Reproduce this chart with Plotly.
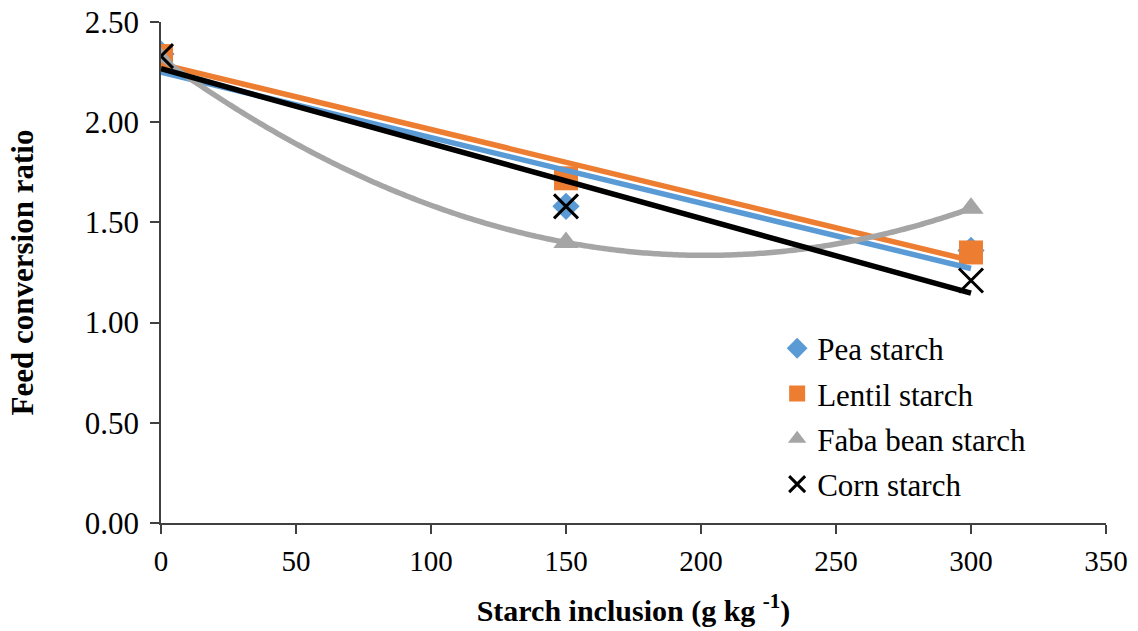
import numpy as np
import plotly.graph_objects as go

# Data
inclusion = [0, 150, 300]
pea = [2.34, 1.58, 1.36]
lentil = [2.33, 1.72, 1.35]
faba = [2.32, 1.40, 1.57]
corn = [2.33, 1.58, 1.21]
series_names = ["Pea starch", "Lentil starch", "Faba bean starch", "Corn starch"]
y_ticks = [0, 0.5, 1.0, 1.5, 2.0, 2.5]
x_ticks = [0, 50, 100, 150, 200, 250, 300, 350]

BLUE = "#5B9BD5"
ORANGE = "#ED7D31"
GRAY = "#A5A5A5"
BLACK = "#000000"
FONT = "Liberation Serif, Tinos, Times New Roman, Times, DejaVu Serif, serif"

fig = go.Figure()

# markers (pea, lentil, faba)
fig.add_trace(go.Scatter(x=inclusion, y=pea, mode="markers", name=series_names[0],
                         legendgroup="a",
                         marker=dict(symbol="diamond", size=21, color=BLUE)))
fig.add_trace(go.Scatter(x=inclusion, y=lentil, mode="markers", name=series_names[1],
                         legendgroup="b",
                         marker=dict(symbol="square", size=24, color=ORANGE)))
fig.add_trace(go.Scatter(x=inclusion, y=faba, mode="markers", name=series_names[2],
                         legendgroup="c",
                         marker=dict(symbol="triangle-up", size=22, color=GRAY)))

# trend lines
xs = np.linspace(0, 300, 301)
def lin(vals):
    c = np.polyfit(inclusion, vals, 1)
    return np.polyval(c, xs)
def quad(vals):
    c = np.polyfit(inclusion, vals, 2)
    return np.polyval(c, xs)

LW = 5.5
fig.add_trace(go.Scatter(x=xs, y=lin(pea), mode="lines", showlegend=False, legendgroup="a",
                         line=dict(color=BLUE, width=LW), hoverinfo="skip"))
fig.add_trace(go.Scatter(x=xs, y=lin(lentil), mode="lines", showlegend=False, legendgroup="b",
                         line=dict(color=ORANGE, width=LW), hoverinfo="skip"))
fig.add_trace(go.Scatter(x=xs, y=quad(faba), mode="lines", showlegend=False, legendgroup="c",
                         line=dict(color=GRAY, width=LW, simplify=False), hoverinfo="skip"))
fig.add_trace(go.Scatter(x=xs, y=lin(corn), mode="lines", showlegend=False, legendgroup="d",
                         line=dict(color=BLACK, width=LW), hoverinfo="skip"))

# corn markers on top
fig.add_trace(go.Scatter(x=inclusion, y=corn, mode="markers", name=series_names[3],
                         legendgroup="d",
                         marker=dict(symbol="x-thin", size=24, color=BLACK,
                                     line=dict(color=BLACK, width=3))))

fig.update_layout(
    width=1138, height=631,
    margin=dict(l=161, r=32, t=22, b=108),
    plot_bgcolor="white", paper_bgcolor="white",
    font=dict(family=FONT, size=30, color="black"),
    legend=dict(x=0.652, y=0.402, xanchor="left", yanchor="top",
                font=dict(family=FONT, size=31, color="black"),
                bgcolor="rgba(0,0,0,0)", traceorder="grouped", tracegroupgap=2),
    xaxis=dict(range=[0, 350], tickvals=x_ticks, showgrid=False, zeroline=False,
               showline=True, linecolor="#404040", linewidth=1.5, automargin=False,
               ticks="outside", ticklen=9, tickcolor="#404040", tickwidth=1.5,
               ticklabelstandoff=2,
               tickfont=dict(family=FONT, size=29, color="black"),
               title=dict(text="<b>Starch inclusion (g kg <sup>-1</sup>)</b>",
                          font=dict(family=FONT, size=30, color="black"), standoff=24)),
    yaxis=dict(range=[0, 2.5], tickvals=y_ticks, tickformat=".2f", showgrid=False,
               zeroline=False, showline=True, linecolor="#404040", linewidth=1.5,
               automargin=False,
               ticks="outside", ticklen=9, tickcolor="#404040", tickwidth=1.5,
               ticklabelstandoff=5,
               tickfont=dict(family=FONT, size=31, color="black"),
               title=dict(text="<b>Feed conversion ratio</b>",
                          font=dict(family=FONT, size=31, color="black"), standoff=42)),
)

fig.write_html("out.html")
